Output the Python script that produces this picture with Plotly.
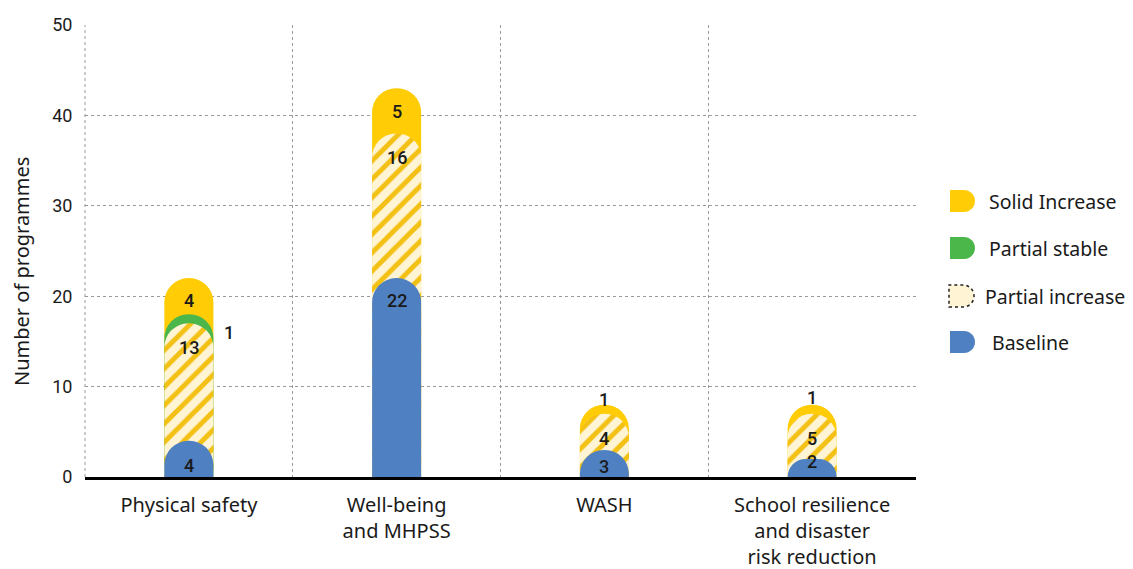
import plotly.graph_objects as go

# ---------------- data ----------------
categories = [
    "Physical safety",
    "Well-being<br>and MHPSS",
    "WASH",
    "School resilience<br>and disaster<br>risk reduction",
]
baseline = [4, 22, 3, 2]
partial_increase = [13, 16, 4, 5]
partial_stable = [1, 0, 0, 0]
solid_increase = [4, 5, 1, 1]
y_ticks = [0, 10, 20, 30, 40, 50]
series_names = ["Solid Increase", "Partial stable", "Partial increase", "Baseline"]

# ---------------- styles ----------------
C_SOLID = "#FFCC05"
C_GREEN = "#4BB74A"
C_BLUE = "#4F81C2"
C_HATCH_FG = "#F3C014"
C_HATCH_BG = "#FFF4D3"
TXT = "#1a1a1a"
GRID = "#9a9a9a"
FONT = "Noto Sans"
NUM_FONT = "Roboto"
BAR_W = 0.236

# cumulative tops (each bar is drawn from 0 to its cumulative top, back to front)
top_base = list(baseline)
top_pi = [b + p for b, p in zip(top_base, partial_increase)]
top_ps = [t + s for t, s in zip(top_pi, partial_stable)]
top_si = [t + s for t, s in zip(top_ps, solid_increase)]

fig = go.Figure()


def add_bar(name, y, color, axis, pattern=None):
    marker = dict(color=color, cornerradius="50%", line=dict(width=0))
    if pattern:
        marker["pattern"] = pattern
    fig.add_trace(go.Bar(name=name, x=categories, y=y, width=BAR_W, marker=marker,
                         xaxis=axis, showlegend=False, hoverinfo="x+y"))


add_bar(series_names[0], top_si, C_SOLID, "x")
add_bar(series_names[1], [t if s > 0 else None for t, s in zip(top_ps, partial_stable)],
        C_GREEN, "x2")
add_bar(series_names[2], top_pi, C_HATCH_BG, "x3",
        dict(shape="/", fgcolor=C_HATCH_FG, bgcolor=C_HATCH_BG, size=13, solidity=0.38,
             fillmode="replace"))
add_bar(series_names[3], top_base, C_BLUE, "x4")

# ---------------- value labels ----------------
label_dy = {
    "si": [-2.5, -2.6, 0.55, 0.75],
    "ps": [-2.0, 0, 0, 0],
    "pi": [-2.7, -2.7, -2.7, -2.7],
    "base": [-2.7, -2.5, -1.8, -0.3],
}
label_dx = {"si": [0, 0, 0, 0], "ps": [40, 0, 0, 0], "pi": [0, 0, 0, 0], "base": [0, 0, 0, 0]}
segments = [
    ("si", solid_increase, top_si),
    ("ps", partial_stable, top_ps),
    ("pi", partial_increase, top_pi),
    ("base", baseline, top_base),
]
for key, vals, tops in segments:
    for i, (v, t) in enumerate(zip(vals, tops)):
        if v <= 0:
            continue
        fig.add_annotation(x=categories[i], y=t + label_dy[key][i], text=str(v),
                           xshift=label_dx[key][i], showarrow=False,
                           font=dict(family=NUM_FONT, size=18, color=TXT, weight=500),
                           xanchor="center", yanchor="middle")

# ---------------- layout geometry (figure pixels) ----------------
W, H = 1133, 569
L, T, R, B = 77, 17, 908, 469
PW, PH = R - L, B - T


def px(x):
    return (x - L) / PW


def py(y):
    return (B - y) / PH


# left boundary grid line (dotted)
fig.add_shape(type="line", xref="paper", yref="paper", x0=0, x1=0, y0=0, y1=1,
              line=dict(color=GRID, width=1, dash="dot"), layer="below")

# ---------------- manual legend ----------------
k = 0.5523 * 11
d_path = (f"M 0,-11 L 14,-11 C {14 + k},-11 25,{-k} 25,0 "
          f"C 25,{k} {14 + k},11 14,11 L 0,11 Z")
legend_items = [
    (series_names[0], 193, 942, 979, dict(fillcolor=C_SOLID, line=dict(width=0))),
    (series_names[1], 240, 942, 979, dict(fillcolor=C_GREEN, line=dict(width=0))),
    (series_names[2], 288, 941, 975, dict(fillcolor=C_HATCH_BG, line=dict(width=1.5, color="#222", dash="dot"))),
    (series_names[3], 334, 942, 982, dict(fillcolor=C_BLUE, line=dict(width=0))),
]
for name, yc, xs, xt, style in legend_items:
    fig.add_shape(type="path", path=d_path, xref="paper", yref="paper",
                  xsizemode="pixel", ysizemode="pixel", xanchor=px(xs), yanchor=py(yc),
                  **style)
    fig.add_annotation(x=px(xt), y=py(yc), xref="paper", yref="paper", text=name,
                       showarrow=False, xanchor="left", yanchor="middle",
                       font=dict(family=FONT, size=19.5, color=TXT))

# y axis title
fig.add_annotation(x=px(13), y=py(264), xref="paper", yref="paper",
                   text="Number of programmes", textangle=-90, showarrow=False,
                   xanchor="center", yanchor="middle",
                   font=dict(family=FONT, size=20, color=TXT))

hidden_x = dict(type="category", range=[-0.5, 3.5], overlaying="x", visible=False,
                categoryorder="array", categoryarray=categories, fixedrange=True)

fig.update_layout(
    width=W, height=H,
    margin=dict(l=L, r=W - R, t=T, b=H - B, autoexpand=False),
    barmode="overlay",
    plot_bgcolor="white", paper_bgcolor="white",
    font=dict(family=FONT, size=20, color=TXT),
    showlegend=False,
    xaxis=dict(type="category", range=[-0.5, 3.5], tickson="boundaries",
               categoryorder="array", categoryarray=categories,
               showgrid=True, gridcolor=GRID, griddash="dot", gridwidth=1,
               showline=True, linecolor="#000", linewidth=3,
               ticks="outside", ticklen=20, tickcolor="rgba(0,0,0,0)",
               ticklabelstandoff=8,
               tickfont=dict(family=FONT, size=20, color=TXT), fixedrange=True,
               layer="above traces"),
    xaxis2=hidden_x, xaxis3=hidden_x, xaxis4=hidden_x,
    yaxis=dict(range=[0, 50], tickvals=y_ticks, showgrid=True, gridcolor=GRID,
               griddash="dot", gridwidth=1, zeroline=False, showline=False,
               ticks="outside", ticklen=8, tickcolor="rgba(0,0,0,0)",
               tickfont=dict(family=NUM_FONT, size=18, color=TXT), fixedrange=True),
)

fig.write_html("out.html")
